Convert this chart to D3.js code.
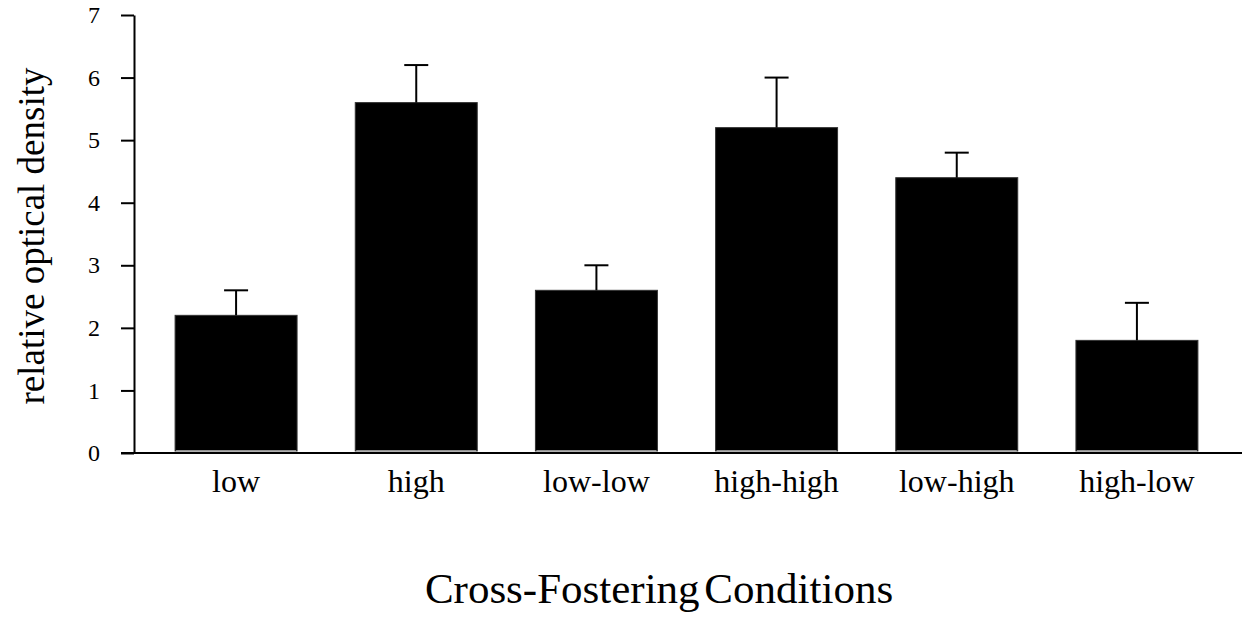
<!DOCTYPE html>
<html>
<head>
<meta charset="utf-8">
<script src="https://cdn.jsdelivr.net/npm/d3@7"></script>
<style>
  html, body { margin: 0; padding: 0; background: #fff; }
  svg text { font-family: "Liberation Serif", "Times New Roman", serif; fill: #000; }
</style>
</head>
<body>
<div id="chart"></div>
<script>
const categories = ['low', 'high', 'low-low', 'high-high', 'low-high', 'high-low'];
const means = [2.2, 5.6, 2.6, 5.2, 4.4, 1.8];
const errors = [0.4, 0.6, 0.4, 0.8, 0.4, 0.6];
const yTicks = [0, 1, 2, 3, 4, 5, 6, 7];

const W = 1248, H = 621;
const svg = d3.select('#chart').append('svg')
  .attr('width', W)
  .attr('height', H);

const axisX = 134, baseY = 453;

const x = d3.scaleBand()
  .domain(categories)
  .range([146, 1227])
  .paddingInner(0.323)
  .paddingOuter(0.1615);

const y = d3.scaleLinear()
  .domain([0, 7])
  .range([baseY, 15]);

// Y axis
const yAxis = svg.append('g')
  .attr('transform', `translate(${axisX},0)`)
  .call(d3.axisLeft(y).tickValues(yTicks).tickFormat(d3.format('d'))
    .tickSize(13).tickPadding(21).tickSizeOuter(0));
yAxis.attr('font-family', null).attr('font-size', null);
yAxis.select('.domain').attr('stroke', '#000').attr('stroke-width', 2);
yAxis.selectAll('.tick line').attr('stroke', '#000').attr('stroke-width', 2);
yAxis.selectAll('.tick text')
  .style('font-family', '"Liberation Serif", serif')
  .style('font-size', '24px')
  .attr('fill', '#000');

// Bars
svg.selectAll('.bar')
  .data(categories)
  .enter()
  .append('rect')
  .attr('class', 'bar')
  .attr('x', d => x(d))
  .attr('width', x.bandwidth())
  .attr('y', (d, i) => y(means[i]))
  .attr('height', (d, i) => y(0) - y(means[i]) - 2)
  .attr('fill', '#000')
  .attr('stroke', '#333')
  .attr('stroke-width', 1);

// light strip at the bottom of each bar
svg.selectAll('.strip')
  .data(categories)
  .enter()
  .append('line')
  .attr('x1', d => x(d) + 1)
  .attr('x2', d => x(d) + x.bandwidth() - 1)
  .attr('y1', baseY - 2)
  .attr('y2', baseY - 2)
  .attr('stroke', '#bbb')
  .attr('stroke-width', 1.5);

// Error bars
const cx = d => x(d) + x.bandwidth() / 2;
svg.selectAll('.err')
  .data(categories)
  .enter()
  .append('line')
  .attr('x1', cx).attr('x2', cx)
  .attr('y1', (d, i) => y(means[i]))
  .attr('y2', (d, i) => y(means[i] + errors[i]))
  .attr('stroke', '#000')
  .attr('stroke-width', 2);

svg.selectAll('.cap')
  .data(categories)
  .enter()
  .append('line')
  .attr('x1', d => cx(d) - 12).attr('x2', d => cx(d) + 12)
  .attr('y1', (d, i) => y(means[i] + errors[i]))
  .attr('y2', (d, i) => y(means[i] + errors[i]))
  .attr('stroke', '#000')
  .attr('stroke-width', 2);

// X axis line
svg.append('line')
  .attr('x1', 121).attr('x2', 1242)
  .attr('y1', baseY).attr('y2', baseY)
  .attr('stroke', '#000')
  .attr('stroke-width', 2);

// X labels
svg.selectAll('.xlab')
  .data(categories)
  .enter()
  .append('text')
  .attr('x', cx)
  .attr('y', 492)
  .attr('text-anchor', 'middle')
  .style('font-size', '32px')
  .text(d => d);

// Axis titles
svg.append('text')
  .attr('transform', 'translate(44,236) rotate(-90)')
  .attr('text-anchor', 'middle')
  .style('font-size', '37px')
  .text('relative optical density');

svg.append('text')
  .attr('x', 659)
  .attr('y', 603)
  .attr('text-anchor', 'middle')
  .style('font-size', '43px')
  .style('word-spacing', '-6px')
  .text('Cross-Fostering Conditions');
</script>
</body>
</html>
